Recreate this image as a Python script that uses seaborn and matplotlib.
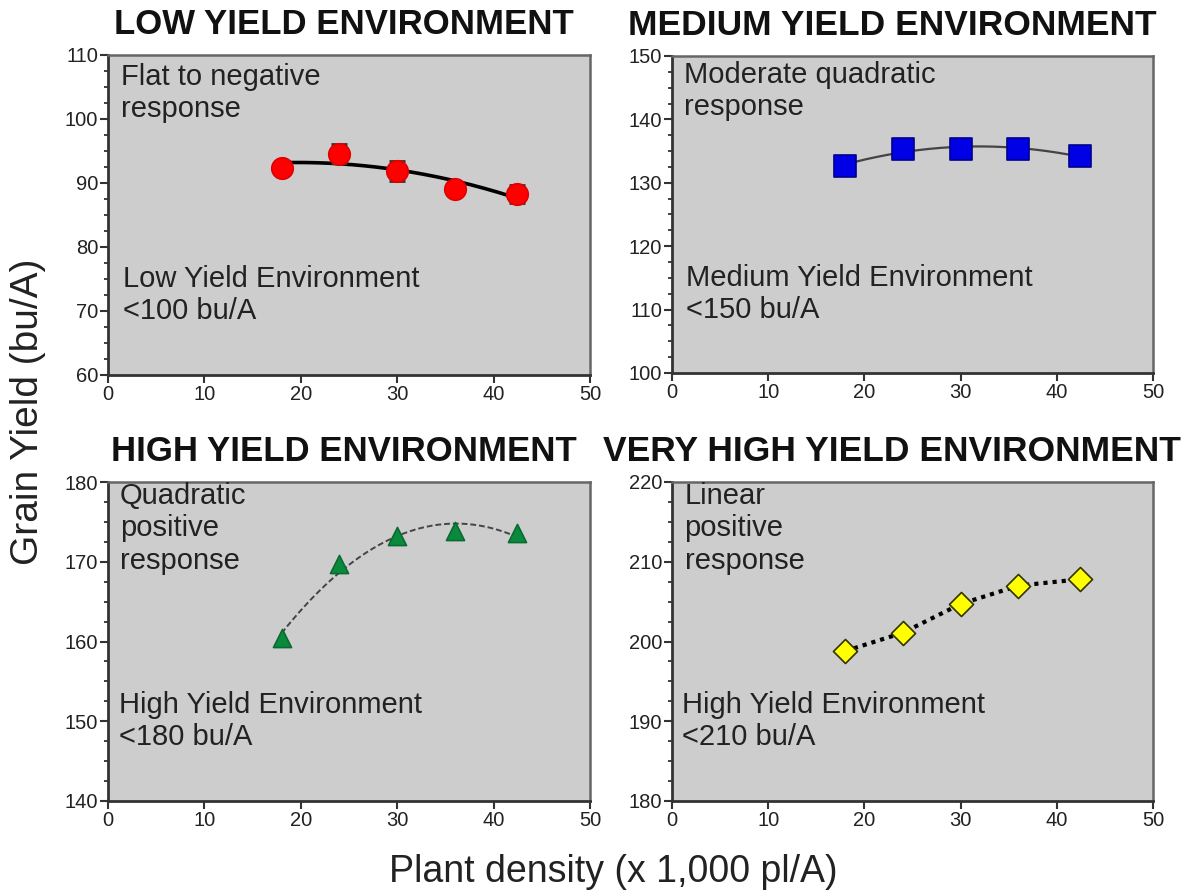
import numpy as np
import pandas as pd
import matplotlib
matplotlib.use("Agg")
import matplotlib.pyplot as plt
import seaborn as sns
from matplotlib.ticker import MultipleLocator, AutoMinorLocator

sns.set_theme(style="white")
plt.rcParams['font.family'] = ['Liberation Sans', 'DejaVu Sans']

# ---- data ----
density = [18, 24, 30, 36, 42.4]
low_yield = [92.4, 94.6, 91.9, 89.0, 88.3]
low_err = [0.9, 1.5, 1.6, 0.8, 1.4]
medium_yield = [132.7, 135.3, 135.4, 135.4, 134.2]
high_yield = [160.5, 169.7, 173.2, 173.8, 173.6]
veryhigh_yield = [198.8, 201.1, 204.7, 207.0, 207.8]

titles = ["LOW YIELD ENVIRONMENT", "MEDIUM YIELD ENVIRONMENT",
          "HIGH YIELD ENVIRONMENT", "VERY HIGH YIELD ENVIRONMENT"]
top_notes = ["Flat to negative\nresponse", "Moderate quadratic\nresponse",
             "Quadratic\npositive\nresponse", "Linear\npositive\nresponse"]
bottom_notes = ["Low Yield Environment\n<100 bu/A", "Medium Yield Environment\n<150 bu/A",
                "High Yield Environment\n<180 bu/A", "High Yield Environment\n<210 bu/A"]
ylims = [(60, 110), (100, 150), (140, 180), (180, 220)]
x_label = "Plant density (x 1,000 pl/A)"
y_label = "Grain Yield (bu/A)"

series = [low_yield, medium_yield, high_yield, veryhigh_yield]
markers = ["o", "s", "^", "D"]
mcolors = ["#ff0000", "#0000e6", "#0a8a3c", "#ffff00"]
ecolors = ["#e00000", "#00008a", "#0a6a30", "#333300"]
msizes = [240, 260, 170, 150]

W, H = 1194, 893
fig = plt.figure(figsize=(W / 100, H / 100), dpi=100)

# axes boxes in pixels: left, top, right, bottom
boxes = [(108, 55, 590, 375), (672, 56, 1153, 373),
         (108, 482, 590, 801), (672, 482, 1153, 801)]
title_x = [0.49, 0.457, 0.49, 0.457]
title_fs = [25, 25.5, 25, 25.5]
top_y = [0.975, 0.985, 1.0, 1.0]
top_x = [0.028, 0.024, 0.025, 0.026]
bot_x = [0.032, 0.030, 0.022, 0.020]

for i in range(4):
    l, t, r, b = boxes[i]
    ax = fig.add_axes([l / W, 1 - b / H, (r - l) / W, (b - t) / H])
    ax.set_facecolor("#cdcdcd")
    df = pd.DataFrame({"x": density, "y": series[i]})

    if i < 3:
        coef = np.polyfit(df["x"], df["y"], 2)
        xs = np.linspace(min(density), max(density), 200)
        fit = pd.DataFrame({"x": xs, "y": np.polyval(coef, xs)})
    else:
        fit = df

    if i == 0:
        sns.lineplot(data=fit, x="x", y="y", ax=ax, color="black", lw=2.6, zorder=2)
        ax.errorbar(density, low_yield, yerr=low_err, fmt="none", ecolor="#333333",
                    elinewidth=2, capsize=6, capthick=2, zorder=3)
    elif i == 1:
        sns.lineplot(data=fit, x="x", y="y", ax=ax, color="#444444", lw=1.6, zorder=2)
    elif i == 2:
        sns.lineplot(data=fit, x="x", y="y", ax=ax, color="#444444", lw=1.4,
                     linestyle=(0, (3, 1.5)), zorder=2)
    else:
        sns.lineplot(data=fit, x="x", y="y", ax=ax, color="black", lw=3,
                     linestyle=(0, (1, 1.2)), zorder=2)

    sns.scatterplot(data=df, x="x", y="y", ax=ax, marker=markers[i], s=msizes[i],
                    color=mcolors[i], edgecolor=ecolors[i], linewidth=1.2, zorder=4)

    ax.set_xlim(0, 50)
    ax.set_ylim(*ylims[i])
    ax.xaxis.set_major_locator(MultipleLocator(10))
    ax.yaxis.set_major_locator(MultipleLocator(10))
    ax.yaxis.set_minor_locator(AutoMinorLocator(4))
    ax.tick_params(axis="both", which="major", direction="out", length=6, width=1.5,
                   color="#333333", labelsize=14.5, labelcolor="#222222", pad=1,
                   bottom=True, left=True)
    ax.tick_params(axis="y", which="minor", direction="out", length=3, width=1.3,
                   color="#333333", left=True)
    ax.set_xlabel("")
    ax.set_ylabel("")
    for side in ["top", "right"]:
        ax.spines[side].set_color("#666666")
        ax.spines[side].set_linewidth(1.8)
    for side in ["left", "bottom"]:
        ax.spines[side].set_color("#333333")
        ax.spines[side].set_linewidth(2)

    ax.text(title_x[i], 1.045, titles[i], transform=ax.transAxes, ha="center",
            va="bottom", fontsize=title_fs[i], fontweight="bold", color="#111111")
    ax.text(top_x[i], top_y[i], top_notes[i], transform=ax.transAxes, ha="left",
            va="top", fontsize=21, color="#222222", linespacing=1.2)
    ax.text(bot_x[i], 0.345, bottom_notes[i], transform=ax.transAxes, ha="left",
            va="top", fontsize=21, color="#222222", linespacing=1.2)

fig.text(28 / W, 1 - 412 / H, y_label, rotation=90, ha="center", va="center",
         fontsize=28, color="#222222")
fig.text(613 / W, 1 - 872 / H, x_label, ha="center", va="center",
         fontsize=27, color="#222222")

fig.savefig("out.png", dpi=100, facecolor="white")
